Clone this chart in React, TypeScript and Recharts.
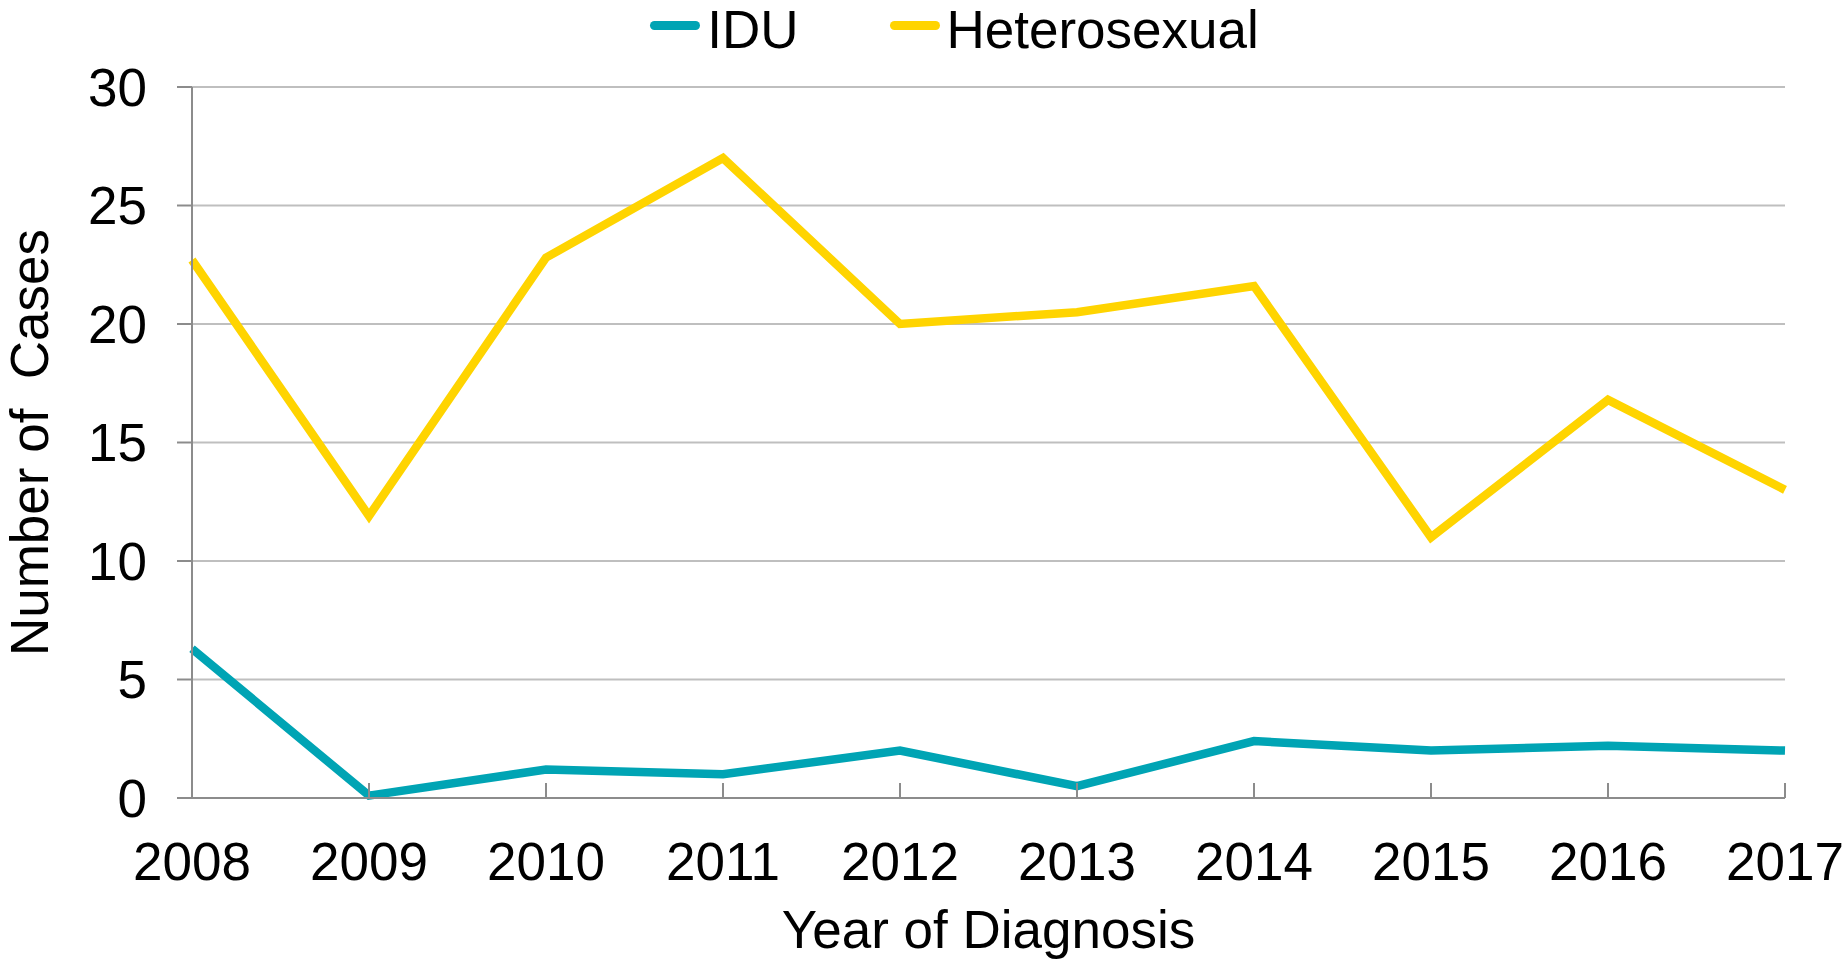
import { LineChart, Line, XAxis, YAxis, CartesianGrid, Label } from "recharts";

// Cases by year of diagnosis
const years = ["2008", "2009", "2010", "2011", "2012", "2013", "2014", "2015", "2016", "2017"];
const iduCases = [6.3, 0.1, 1.2, 1.0, 2.0, 0.5, 2.4, 2.0, 2.2, 2.0];
const heteroCases = [22.7, 11.9, 22.8, 27.0, 20.0, 20.5, 21.6, 11.0, 16.8, 13.0];
const yTicks = [0, 5, 10, 15, 20, 25, 30];

const series = [
  { key: "idu", name: "IDU", color: "#00A4B4" },
  { key: "heterosexual", name: "Heterosexual", color: "#FFD400" },
];

const data = years.map((year, i) => ({
  year,
  idu: iduCases[i],
  heterosexual: heteroCases[i],
}));

const font = "'Liberation Sans', Arial, sans-serif";
const axisGray = "#8C8C8C";

const ChartLegend = () => (
  <div
    style={{
      position: "absolute",
      top: 0,
      left: 0,
      width: 1845,
      boxSizing: "border-box",
      paddingLeft: 64,
      display: "flex",
      justifyContent: "center",
      alignItems: "flex-start",
      height: 60,
    }}
  >
    {series.map((s, i) => (
      <div
        key={s.key}
        style={{
          display: "flex",
          alignItems: "flex-start",
          marginRight: i < series.length - 1 ? 91 : 0,
        }}
      >
        <span
          style={{
            display: "inline-block",
            width: 50,
            height: 9,
            marginTop: 21,
            borderRadius: 5,
            background: s.color,
            marginRight: 7,
          }}
        />
        <span style={{ fontSize: 53, lineHeight: "60px", color: "#000" }}>{s.name}</span>
      </div>
    ))}
  </div>
);

export default function App() {
  return (
    <div
      style={{
        position: "absolute",
        top: 0,
        left: 0,
        width: 1845,
        height: 959,
        background: "#fff",
        fontFamily: font,
      }}
    >
      <ChartLegend />
      <LineChart
        width={1845}
        height={959}
        data={data}
        margin={{ top: 87, right: 60, left: 0, bottom: 0 }}
      >
        <CartesianGrid vertical={false} stroke="#BFBFBF" strokeWidth={2} />
        <XAxis
          dataKey="year"
          interval={0}
          height={161}
          axisLine={{ stroke: axisGray, strokeWidth: 2 }}
          tickLine={{ stroke: axisGray, strokeWidth: 2 }}
          tickSize={-15}
          tickMargin={59}
          tick={{ fontSize: 53, fill: "#000", fontFamily: font }}
        >
          <Label
            value="Year of Diagnosis"
            position="insideBottom"
            offset={11}
            style={{ fontSize: 53, fill: "#000", fontFamily: font }}
          />
        </XAxis>
        <YAxis
          width={192}
          domain={[0, 30]}
          ticks={yTicks}
          interval={0}
          axisLine={{ stroke: axisGray, strokeWidth: 2 }}
          tickLine={{ stroke: axisGray, strokeWidth: 2 }}
          tickSize={15}
          tickMargin={30}
          tick={{ fontSize: 53, fill: "#000", fontFamily: font }}
        >
          <Label
            value={"Number of\u00A0 Cases"}
            angle={-90}
            position="insideLeft"
            offset={29}
            style={{ fontSize: 53, fill: "#000", fontFamily: font, textAnchor: "middle" }}
          />
        </YAxis>
        {series.map((s) => (
          <Line
            key={s.key}
            type="linear"
            dataKey={s.key}
            name={s.name}
            stroke={s.color}
            strokeWidth={8.5}
            dot={false}
            activeDot={false}
            isAnimationActive={false}
          />
        ))}
      </LineChart>
    </div>
  );
}
